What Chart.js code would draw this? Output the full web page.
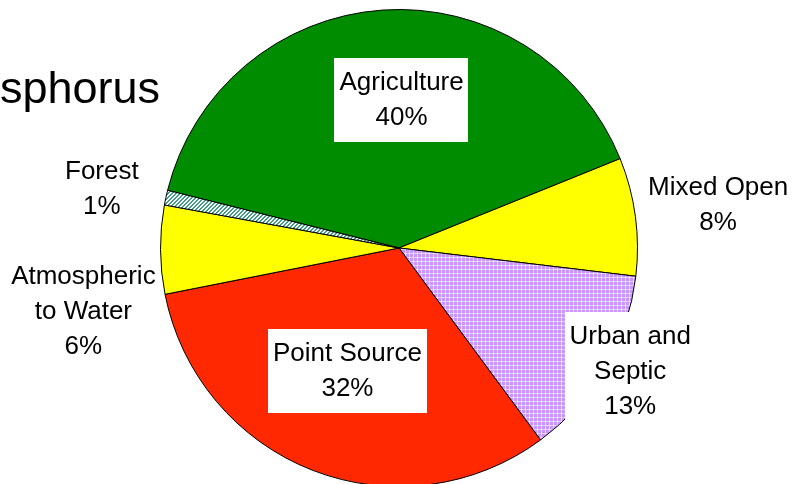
<!DOCTYPE html>
<html>
<head>
<meta charset="utf-8">
<script src="https://cdn.jsdelivr.net/npm/chart.js@4.4.0/dist/chart.umd.min.js"></script>
<style>
  html, body { margin: 0; padding: 0; background: #fff; overflow: hidden; }
  #wrap { position: absolute; left: 0; top: 0; width: 796px; height: 496px; }
</style>
</head>
<body>
<div id="wrap"><canvas id="pieChart" width="796" height="496"></canvas></div>
<script>
// chart data
const titleText = 'Phosphorus';
const categories = ['Agriculture', 'Mixed Open', 'Urban and Septic', 'Point Source', 'Atmospheric to Water', 'Forest'];
const shares = [40, 8, 13, 32, 6, 1];
const labelLines = [['Agriculture'], ['Mixed Open'], ['Urban and', 'Septic'], ['Point Source'], ['Atmospheric', 'to Water'], ['Forest']];

// label placement relative to each slice (angle tweak in degrees, radius factor, white box)
const labelPlace = [
  { da: 5, rf: 0.62, box: true },
  { da: 0, rf: 1.35, box: false },
  { da: -2, rf: 1.10, box: true },
  { da: 1.5, rf: 0.56, box: true },
  { da: -11, rf: 1.35, box: false },
  { da: -1, rf: 1.27, box: false }
];

function makePattern(size, draw) {
  const c = document.createElement('canvas');
  c.width = size; c.height = size;
  const g = c.getContext('2d');
  draw(g);
  return document.createElement('canvas').getContext('2d').createPattern(c, 'repeat');
}

// lavender cross-hatch for urban
const urbanFill = makePattern(4, function (g) {
  g.fillStyle = '#c896ff';
  g.fillRect(0, 0, 4, 4);
  g.fillStyle = '#e4ccff';
  g.fillRect(1, 0, 1, 4);
  g.fillRect(0, 1, 4, 1);
  g.fillStyle = '#ffffff';
  g.fillRect(1, 1, 1, 1);
});

// green diagonal stripes for forest
const forestFill = makePattern(4, function (g) {
  for (let x = 0; x < 4; x++) {
    for (let y = 0; y < 4; y++) {
      g.fillStyle = ((x + y) % 4) < 2 ? '#3f9f80' : '#ffffff';
      g.fillRect(x, y, 1, 1);
    }
  }
});

const sliceColors = ['#008c00', '#ffff00', urbanFill, '#ff2800', '#ffff00', forestFill];

const FONT = '26px "Liberation Sans", Arial, sans-serif';
const LINE_H = 35;

const labelPlugin = {
  id: 'sliceLabels',
  afterDatasetsDraw(chart) {
    const ctx = chart.ctx;
    const arcs = chart.getDatasetMeta(0).data;
    ctx.save();
    ctx.font = FONT;
    ctx.textAlign = 'center';
    ctx.textBaseline = 'middle';
    arcs.forEach(function (arc, i) {
      const p = arc.getProps(['x', 'y', 'startAngle', 'endAngle', 'outerRadius'], true);
      const mid = (p.startAngle + p.endAngle) / 2 + labelPlace[i].da * Math.PI / 180;
      const r = p.outerRadius * labelPlace[i].rf;
      const cx = p.x + Math.cos(mid) * r;
      const cy = p.y + Math.sin(mid) * r;
      const lines = labelLines[i].concat([shares[i] + '%']);
      const h = lines.length * LINE_H;
      if (labelPlace[i].box) {
        let w = 0;
        lines.forEach(function (t) { w = Math.max(w, ctx.measureText(t).width); });
        ctx.fillStyle = '#ffffff';
        ctx.fillRect(Math.round(cx - w / 2 - 5), Math.round(cy - h / 2 - 7), Math.round(w + 10), Math.round(h + 14));
      }
      ctx.fillStyle = '#000000';
      lines.forEach(function (t, k) {
        ctx.fillText(t, cx, cy - h / 2 + LINE_H * (k + 0.5));
      });
    });
    // title, cut off at the left edge
    ctx.font = '45px "Liberation Sans", Arial, sans-serif';
    ctx.textAlign = 'right';
    ctx.textBaseline = 'alphabetic';
    ctx.fillText(titleText, 160, 103);
    ctx.restore();
  }
};

new Chart(document.getElementById('pieChart'), {
  type: 'pie',
  data: {
    labels: categories,
    datasets: [{
      data: shares,
      backgroundColor: sliceColors,
      borderColor: '#000000',
      borderWidth: 1
    }]
  },
  options: {
    responsive: false,
    animation: false,
    rotation: -76,
    layout: { padding: { top: 9, bottom: 9, left: 2, right: 0 } },
    plugins: {
      legend: { display: false },
      tooltip: { enabled: false }
    }
  },
  plugins: [labelPlugin]
});
</script>
</body>
</html>
